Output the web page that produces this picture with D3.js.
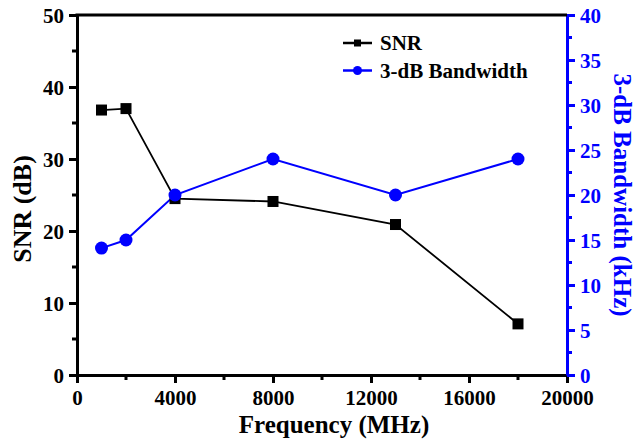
<!DOCTYPE html>
<html>
<head>
<meta charset="utf-8">
<script src="https://cdn.jsdelivr.net/npm/d3@7"></script>
<style>
  body { margin: 0; background: #fff; }
  text { font-family: "Liberation Serif", "Times New Roman", serif; font-weight: bold; }
</style>
</head>
<body>
<div id="chart"></div>
<script>
// Data
const freqs = [1000, 2000, 4000, 8000, 13000, 18000];
const snr = [36.8, 37.0, 24.5, 24.1, 20.9, 7.1];
const bandwidth = [14.1, 15.0, 20.0, 24.0, 20.0, 24.0];

const xTicks = [0, 4000, 8000, 12000, 16000, 20000];
const yLeftTicks = [0, 10, 20, 30, 40, 50];
const yRightTicks = [0, 5, 10, 15, 20, 25, 30, 35, 40];

const width = 637, height = 448;
const margin = {top: 15, right: 70, bottom: 73, left: 77};
const blue = "#0000ff";

const svg = d3.select("#chart").append("svg")
    .attr("width", width)
    .attr("height", height);

const x = d3.scaleLinear().domain([0, 20000]).range([margin.left, width - margin.right]);
const yL = d3.scaleLinear().domain([0, 50]).range([height - margin.bottom, margin.top]);
const yR = d3.scaleLinear().domain([0, 40]).range([height - margin.bottom, margin.top]);

// --- minor ticks ---
const minor = svg.append("g");
minor.selectAll("line.mx")
    .data(d3.range(2000, 20000, 4000))
    .enter().append("line")
    .attr("x1", d => x(d)).attr("x2", d => x(d))
    .attr("y1", yL(0)).attr("y2", yL(0) + 5)
    .attr("stroke", "#000").attr("stroke-width", 3);
minor.selectAll("line.myl")
    .data(d3.range(5, 50, 10))
    .enter().append("line")
    .attr("x1", x(0) - 5).attr("x2", x(0))
    .attr("y1", d => yL(d)).attr("y2", d => yL(d))
    .attr("stroke", "#000").attr("stroke-width", 3);
minor.selectAll("line.myr")
    .data(d3.range(2.5, 40, 5))
    .enter().append("line")
    .attr("x1", x(20000)).attr("x2", x(20000) + 5)
    .attr("y1", d => yR(d)).attr("y2", d => yR(d))
    .attr("stroke", blue).attr("stroke-width", 3);

// --- axes ---
const xAxis = svg.append("g")
    .attr("transform", `translate(0,${yL(0)})`)
    .call(d3.axisBottom(x).tickValues(xTicks).tickSize(8).tickPadding(7).tickSizeOuter(0).tickFormat(d3.format("d")));

const yAxisL = svg.append("g")
    .attr("transform", `translate(${x(0)},0)`)
    .call(d3.axisLeft(yL).tickValues(yLeftTicks).tickSize(8).tickPadding(5).tickSizeOuter(0));

const yAxisR = svg.append("g")
    .attr("transform", `translate(${x(20000)},0)`)
    .call(d3.axisRight(yR).tickValues(yRightTicks).tickSize(8).tickPadding(5).tickSizeOuter(0));

[xAxis, yAxisL].forEach(g => {
    g.selectAll("path, line").attr("stroke", "#000").attr("stroke-width", 3);
    g.selectAll("text").attr("fill", "#000").style("font-size", "21px");
});
yAxisR.selectAll("path, line").attr("stroke", blue).attr("stroke-width", 3);
yAxisR.selectAll("text").attr("fill", blue).style("font-size", "21px");
yAxisL.selectAll("text").attr("dy", "0.34em");
yAxisR.selectAll("text").attr("dy", "0.34em");

// top border
svg.append("line")
    .attr("x1", x(0) - 1.5).attr("x2", x(20000))
    .attr("y1", yL(50)).attr("y2", yL(50))
    .attr("stroke", "#000").attr("stroke-width", 3);

// --- axis titles ---
svg.append("text")
    .attr("x", 334)
    .attr("y", 433)
    .attr("text-anchor", "middle")
    .style("font-size", "25px")
    .text("Frequency (MHz)");

svg.append("text")
    .attr("transform", "translate(31,209) rotate(-90)")
    .attr("text-anchor", "middle")
    .style("font-size", "26px")
    .text("SNR (dB)");

svg.append("text")
    .attr("transform", `translate(614,${(yL(0) + yL(50)) / 2}) rotate(90)`)
    .attr("text-anchor", "middle")
    .attr("fill", blue)
    .style("font-size", "25px")
    .text("3-dB Bandwidth (kHz)");

// --- series ---
const snrData = freqs.map((f, i) => ({f, v: snr[i]}));
const bwData = freqs.map((f, i) => ({f, v: bandwidth[i]}));

svg.append("path")
    .datum(snrData)
    .attr("fill", "none")
    .attr("stroke", "#000")
    .attr("stroke-width", 1.8)
    .attr("d", d3.line().x(d => x(d.f)).y(d => yL(d.v)));

svg.append("path")
    .datum(bwData)
    .attr("fill", "none")
    .attr("stroke", blue)
    .attr("stroke-width", 2)
    .attr("d", d3.line().x(d => x(d.f)).y(d => yR(d.v)));

svg.selectAll("rect.snr")
    .data(snrData)
    .enter().append("rect")
    .attr("class", "snr")
    .attr("x", d => x(d.f) - 5.5)
    .attr("y", d => yL(d.v) - 5.5)
    .attr("width", 11).attr("height", 11)
    .attr("fill", "#000");

svg.selectAll("circle.bw")
    .data(bwData)
    .enter().append("circle")
    .attr("class", "bw")
    .attr("cx", d => x(d.f))
    .attr("cy", d => yR(d.v))
    .attr("r", 6.5)
    .attr("fill", blue);

// --- legend ---
const legend = svg.append("g").attr("transform", "translate(343,43)");
const legendItems = [
    {label: "SNR", color: "#000", shape: "square"},
    {label: "3-dB Bandwidth", color: blue, shape: "circle"}
];
legendItems.forEach((item, i) => {
    const g = legend.append("g").attr("transform", `translate(0,${i * 27.5})`);
    g.append("line").attr("x1", 0).attr("x2", 29).attr("y1", 0).attr("y2", 0)
        .attr("stroke", item.color).attr("stroke-width", 2.5);
    if (item.shape === "square") {
        g.append("rect").attr("x", 11).attr("y", -3.5).attr("width", 7).attr("height", 7).attr("fill", item.color);
    } else {
        g.append("circle").attr("cx", 14.5).attr("cy", 0).attr("r", 4.5).attr("fill", item.color);
    }
    g.append("text").attr("x", 37).attr("y", 0).attr("dy", "0.35em")
        .style("font-size", "21px").attr("fill", "#000").text(item.label);
});
</script>
</body>
</html>
